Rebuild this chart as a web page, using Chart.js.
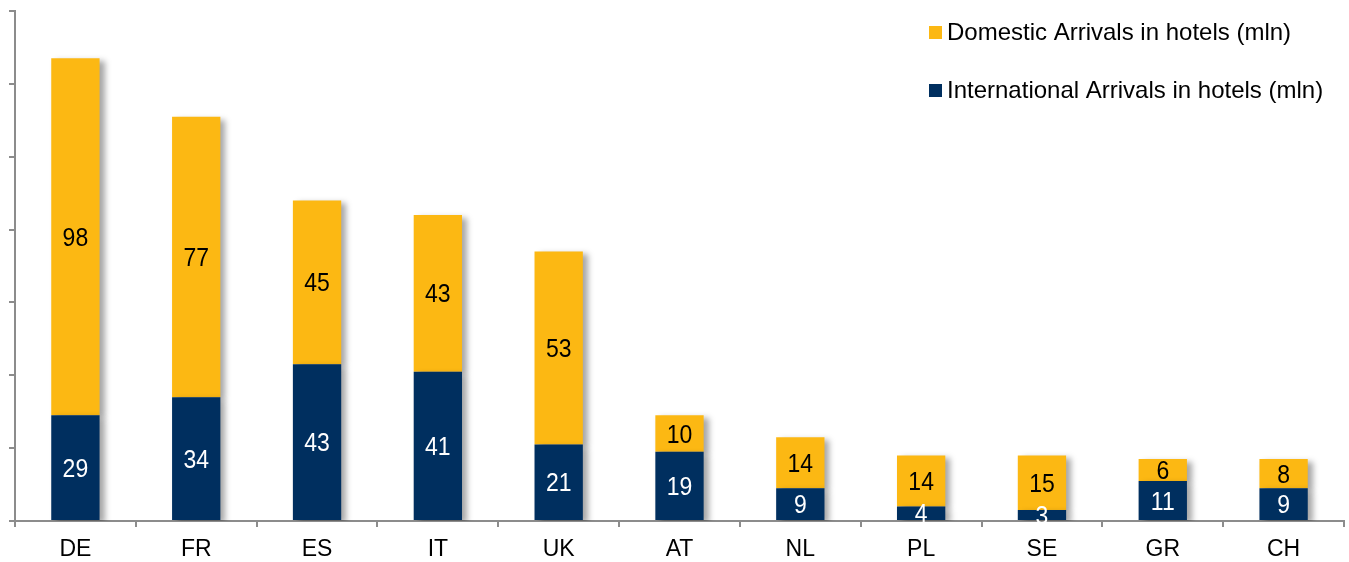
<!DOCTYPE html>
<html>
<head>
<meta charset="utf-8">
<script src="https://cdn.jsdelivr.net/npm/chart.js@4.4.0/dist/chart.umd.min.js"></script>
<style>
  body { margin: 0; background: #fff; }
  #wrap { width: 1349px; height: 562px; }
</style>
</head>
<body>
<div id="wrap"><canvas id="myChart"></canvas></div>
<script>
const countries = ["DE", "FR", "ES", "IT", "UK", "AT", "NL", "PL", "SE", "GR", "CH"];
const international = [29, 34, 43, 41, 21, 19, 9, 4, 3, 11, 9];
const domestic = [98, 77, 45, 43, 53, 10, 14, 14, 15, 6, 8];

const yellow = "#FCB813";
const navy = "#002F5F";
const axisGrey = "#8C8C8C";
const fontFamily = "'Liberation Sans', Arial, sans-serif";

// soft grey shadow to the right of each bar
const shadowPlugin = {
  id: 'barShadow',
  beforeDatasetsDraw(chart) {
    const ctx = chart.ctx;
    ctx.save();
    ctx.shadowColor = "rgba(0,0,0,0.35)";
    ctx.shadowBlur = 6;
    ctx.shadowOffsetX = 5;
    ctx.shadowOffsetY = 3;
  },
  afterDatasetsDraw(chart) {
    chart.ctx.restore();
  }
};

// value written in the middle of each segment (text a bit taller, like the original)
const valuePlugin = {
  id: 'values',
  afterDatasetsDraw(chart) {
    const ctx = chart.ctx;
    chart.data.datasets.forEach((ds, i) => {
      const meta = chart.getDatasetMeta(i);
      meta.data.forEach((bar, j) => {
        const mid = (bar.y + bar.base) / 2;
        ctx.save();
        ctx.translate(bar.x, mid + 2);
        ctx.scale(1, 1.12);
        ctx.font = "23px " + fontFamily;
        ctx.textAlign = "center";
        ctx.textBaseline = "middle";
        ctx.fillStyle = ds.labelColor;
        ctx.fillText(String(ds.data[j]), 0, 0);
        ctx.restore();
      });
    });
  }
};

// legend inside the plot, top right, domestic first
const legendPlugin = {
  id: 'boxLegend',
  afterDraw(chart) {
    const ctx = chart.ctx;
    ctx.save();
    ctx.font = "24px " + fontFamily;
    ctx.textBaseline = "middle";
    const items = [chart.data.datasets[1], chart.data.datasets[0]];
    items.forEach((ds, k) => {
      const y = 32 + k * 58;
      ctx.fillStyle = ds.backgroundColor;
      ctx.fillRect(929, y - 6, 13, 13);
      ctx.fillStyle = "#000";
      ctx.fillText(ds.label, 947, y + 1);
    });
    ctx.restore();
  }
};

const ctx = document.getElementById('myChart');
const myChart = new Chart(ctx, {
  type: 'bar',
  data: {
    labels: countries,
    datasets: [{
      label: "International Arrivals in hotels (mln)",
      data: international,
      backgroundColor: navy,
      labelColor: "#fff"
    }, {
      label: "Domestic Arrivals in hotels (mln)",
      data: domestic,
      backgroundColor: yellow,
      labelColor: "#000"
    }]
  },
  options: {
    responsive: true,
    maintainAspectRatio: false,
    animation: false,
    layout: { padding: { left: 9, right: 5, top: 11, bottom: 0 } },
    datasets: {
      bar: { categoryPercentage: 1.0, barPercentage: 0.4 }
    },
    plugins: {
      legend: { display: false },
      tooltip: { enabled: false }
    },
    scales: {
      x: {
        stacked: true,
        border: { color: axisGrey, width: 2 },
        grid: { drawOnChartArea: false, color: axisGrey, tickLength: 6, lineWidth: 2, offset: true },
        ticks: {
          color: "#000",
          padding: 9,
          font: { family: fontFamily, size: 23 }
        },
        afterFit(scale) {
          scale.height = 41;
        }
      },
      y: {
        stacked: true,
        min: 0,
        max: 140,
        border: { color: axisGrey, width: 2 },
        grid: { drawOnChartArea: false, color: axisGrey, tickLength: 6, lineWidth: 2 },
        ticks: { display: false, stepSize: 20 }
      }
    }
  },
  plugins: [shadowPlugin, valuePlugin, legendPlugin]
});
</script>
</body>
</html>
